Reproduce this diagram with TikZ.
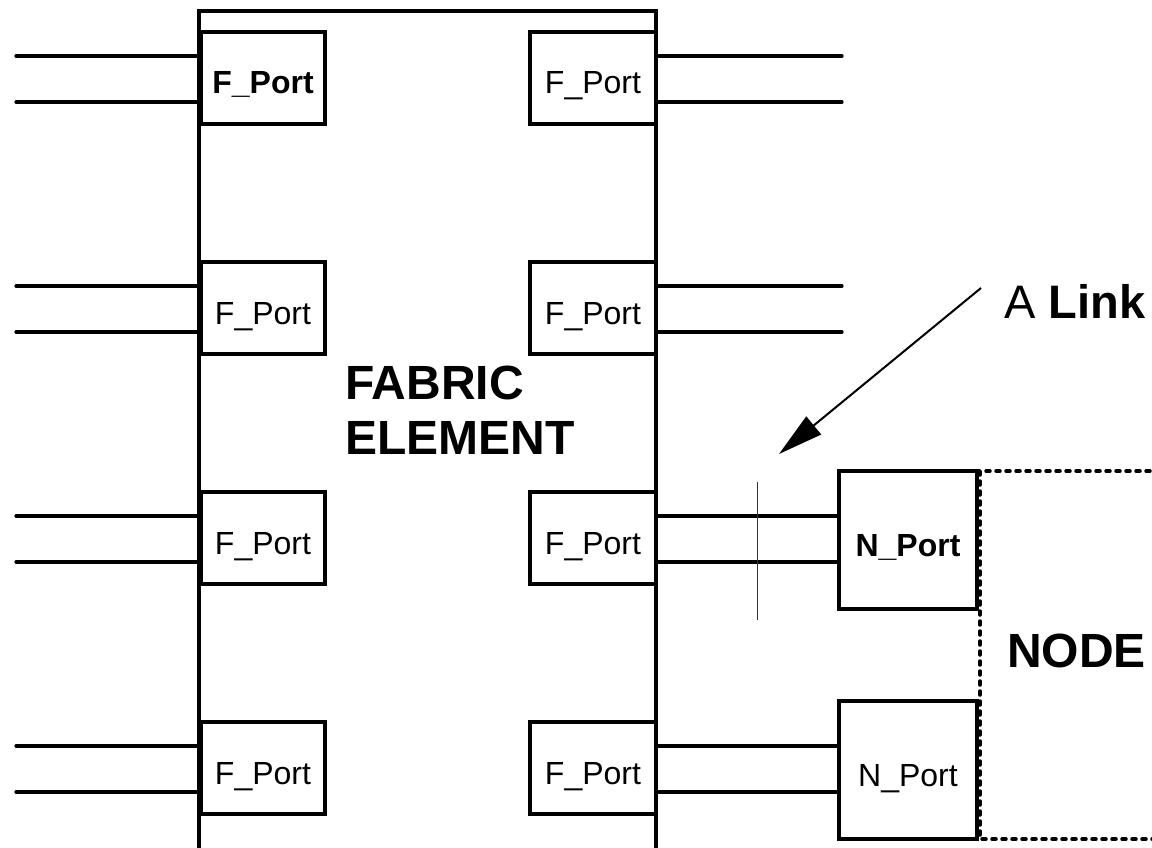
\documentclass[tikz,border=0pt]{standalone}
\usepackage{fontspec}
\setmainfont{Liberation Sans}
\usetikzlibrary{arrows.meta}
\newcommand\myportfont{\fontsize{32}{38}\selectfont}
\newcommand\mybigfont{\fontsize{48}{55}\selectfont}
\begin{document}
\begin{tikzpicture}[x=1pt,y=-1pt,
  wire/.style={line width=3.2pt, line cap=round},
  fport/.style={draw, line width=3.2pt, minimum width=124pt, minimum height=92pt, inner sep=0pt,
     text height=32pt, text depth=0pt, font=\myportfont},
  fportr/.style={fport, minimum width=126pt},
  nport/.style={fport, minimum width=138pt, minimum height=138pt},
  nodeborder/.style={line width=3.5pt, dash pattern=on 4pt off 6pt, line cap=round},
  marker/.style={line width=1pt, draw=black!80},
  bigtext/.style={font=\mybigfont\bfseries, inner sep=0pt}]
\useasboundingbox (0,0) rectangle (1152,848);
% fabric element outline
\draw[line width=3.2pt] (199,852) -- (199,11) -- (656,11) -- (656,852);
% left F_Ports
\node[fport] (L1) at (263,78) {\bfseries F\_Port};
\node[fport] (L2) at (263,308) {F\_Port};
\node[fport] (L3) at (263,538) {F\_Port};
\node[fport] (L4) at (263,768) {F\_Port};
% right F_Ports
\node[fportr] (R1) at (593,78) {F\_Port};
\node[fportr] (R2) at (593,308) {F\_Port};
\node[fportr] (R3) at (593,538) {F\_Port};
\node[fportr] (R4) at (593,768) {F\_Port};
% N_Ports
\node[nport] (N1) at (908,540) {\bfseries N\_Port};
\node[nport] (N2) at (908,770) {N\_Port};
% left wires
\foreach \i/\ya/\yb in {1/56/102, 2/286/332, 3/516/562, 4/746/792}{
  \coordinate (la\i) at (16,\ya);
  \coordinate (lb\i) at (16,\yb);
  \draw[wire] (la\i) -- (la\i -| L\i.west);
  \draw[wire] (lb\i) -- (lb\i -| L\i.west);
}
% right wires rows 1,2
\foreach \i/\ya/\yb in {1/56/102, 2/286/332}{
  \coordinate (ra\i) at (842,\ya);
  \coordinate (rb\i) at (842,\yb);
  \draw[wire] (ra\i -| R\i.east) -- (ra\i);
  \draw[wire] (rb\i -| R\i.east) -- (rb\i);
}
% links to N_Ports
\draw[wire] (R3.east |- 0,516) -- (N1.west |- 0,516);
\draw[wire] (R3.east |- 0,562) -- (N1.west |- 0,562);
\draw[wire] (R4.east |- 0,746) -- (N2.west |- 0,746);
\draw[wire] (R4.east |- 0,792) -- (N2.west |- 0,792);
% node border (dotted)
\draw[nodeborder] (1160,471) -- (980,471) -- (980,839) -- (1160,839);
% labels
\node[bigtext, anchor=west, align=left] (fab) at (345,410) {FABRIC\\ELEMENT};
\node[bigtext, anchor=base west] (nodelbl) at (1007,667) {NODE};
\node[font=\fontsize{47}{55}\selectfont, inner sep=0pt, anchor=base west] (link) at (1004,318) {A \textbf{Link}};
% link marker and arrow
\coordinate (mtop) at (757,482);
\coordinate (mbot) at (757,620);
\draw[marker] (mtop) -- (mbot);
\coordinate (atail) at (981,288);
\coordinate (ahead) at (779,454);
\draw[line width=2pt, -{Triangle[length=45pt,width=23pt]}] (atail) -- (ahead);
\end{tikzpicture}
\end{document}
